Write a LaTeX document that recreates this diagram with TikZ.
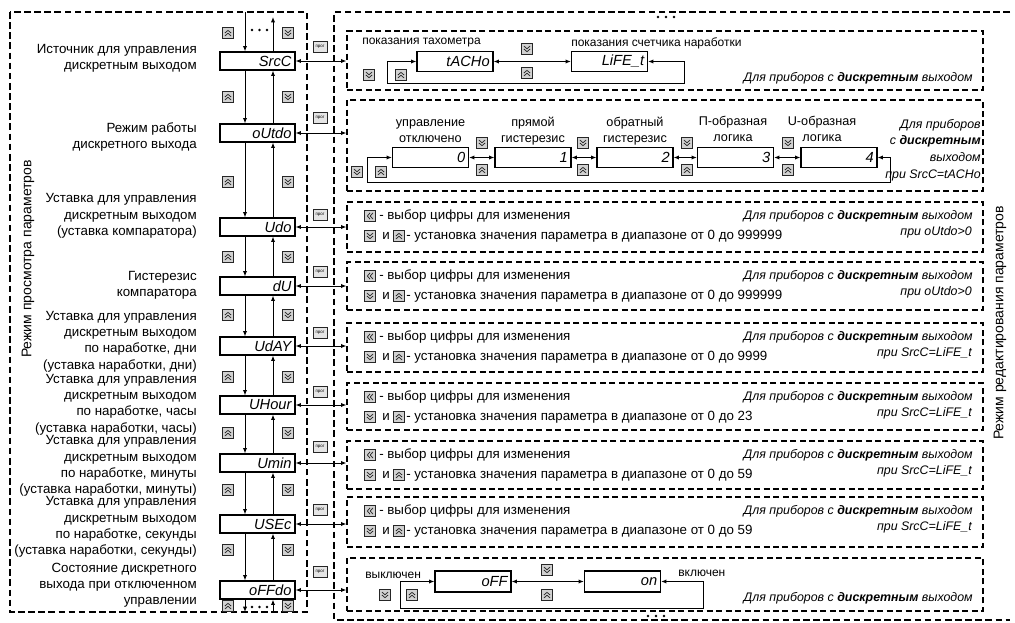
\documentclass[tikz,border=0pt]{standalone}
\usepackage{fontspec}
\setmainfont{Liberation Sans}
\usetikzlibrary{arrows.meta}
\newcommand\LblF{\fontsize{10}{12.2}\selectfont}
\newcommand\VtF{\fontsize{10.5}{12}\selectfont}
\newcommand\SmF{\fontsize{9}{11}\selectfont}
\newcommand\MdF{\fontsize{9.5}{12}\selectfont}
\newcommand\ItF{\fontsize{9.3}{12.5}\selectfont\itshape}
\newcommand\SegF{\fontsize{11}{11}\selectfont\itshape}
\newcommand\PrgF{\fontsize{3.3}{3.3}\selectfont}
\newcommand\DskW{\textbf{дискретным}}
\tikzset{
  outerdash/.style={line width=1.1pt, dash pattern=on 5pt off 2.6pt},
  paneldash/.style={draw, line width=0.9pt, dash pattern=on 4.5pt off 2.6pt, inner sep=0pt, minimum width=477pt},
  pbox/.style={draw, line width=0.9pt, minimum height=13.5pt, text width=51pt, inner xsep=2.6pt, inner ysep=0pt, align=right, font=\SegF},
  sbox/.style={draw, line width=0.9pt, minimum height=15pt, text width=52pt, inner xsep=2.5pt, inner ysep=0pt, align=right, font=\SegF},
  conn/.style={draw, line width=0.75pt, -{Latex[length=4pt,width=3.2pt]}},
  biconn/.style={draw, line width=0.75pt, {Latex[length=4pt,width=3.2pt]}-{Latex[length=4pt,width=3.2pt]}},
  btn/.style={draw=black!85, fill=black!18, line width=0.5pt, minimum size=8.5pt, inner sep=0pt},
  upbtn/.style={btn, path picture={
      \draw[line width=0.55pt] ([shift={(-2.3pt,0pt)}]path picture bounding box.center) -- ++(2.3pt,2pt) -- ++(2.3pt,-2pt);
      \draw[line width=0.55pt] ([shift={(-2.3pt,-2.2pt)}]path picture bounding box.center) -- ++(2.3pt,2pt) -- ++(2.3pt,-2pt);}},
  dnbtn/.style={btn, path picture={
      \draw[line width=0.55pt] ([shift={(-2.3pt,0pt)}]path picture bounding box.center) -- ++(2.3pt,-2pt) -- ++(2.3pt,2pt);
      \draw[line width=0.55pt] ([shift={(-2.3pt,2.2pt)}]path picture bounding box.center) -- ++(2.3pt,-2pt) -- ++(2.3pt,2pt);}},
  ltbtn/.style={btn, path picture={
      \draw[line width=0.55pt] ([shift={(0pt,2.3pt)}]path picture bounding box.center) -- ++(-2pt,-2.3pt) -- ++(2pt,-2.3pt);
      \draw[line width=0.55pt] ([shift={(2.2pt,2.3pt)}]path picture bounding box.center) -- ++(-2pt,-2.3pt) -- ++(2pt,-2.3pt);}},
  prgbtn/.style={draw=black!85, fill=black!10, line width=0.5pt, minimum width=10.5pt, minimum height=8.5pt, inner sep=0pt, font=\PrgF},
  lbl/.style={font=\LblF, align=right, anchor=east, inner sep=0pt},
  txt/.style={font=\LblF, anchor=west, inner sep=0pt},
  stx/.style={font=\SmF, anchor=west, inner sep=0pt},
  itx/.style={font=\ItF, anchor=east, inner sep=0pt, align=right},
}
\begin{document}
\begin{tikzpicture}[x=0.75pt,y=-0.75pt]
\useasboundingbox (0,0) rectangle (1015,622);
% outer boxes
\draw[outerdash] (10,12) rectangle (307,612);
\draw[outerdash] (1010,12) -- (334,12) -- (334,620) -- (1010,620);

% parameter boxes
\node[pbox] (srcc) at (257.5,61) {SrcC};
\node[pbox] (outdo) at (257.5,133) {oUtdo};
\node[pbox] (udo) at (257.5,227) {Udo};
\node[pbox] (du) at (257.5,286) {dU};
\node[pbox] (uday) at (257.5,346) {UdAY};
\node[pbox] (uhour) at (257.5,405) {UHour};
\node[pbox] (umin) at (257.5,463) {Umin};
\node[pbox] (usec) at (257.5,524) {USEc};
\node[pbox] (offdo) at (257.5,590) {oFFdo};

\coordinate (xd) at (245,0);
\coordinate (xu) at (273,0);
\foreach \a/\b in {srcc/outdo, outdo/udo, udo/du, du/uday, uday/uhour, uhour/umin, umin/usec, usec/offdo}{
  \draw[conn] (\a.south -| xd) -- (\b.north -| xd);
  \draw[conn] (\b.north -| xu) -- (\a.south -| xu);
}
\coordinate (topd) at (245,12);
\coordinate (topu) at (273,17);
\coordinate (botd) at (245,612);
\coordinate (botu) at (273,612);
\draw[conn] (topd) -- (srcc.north -| topd);
\draw[conn] (srcc.north -| topu) -- (topu);
\draw[conn] (offdo.south -| botd) -- (botd);
\draw[conn] (botu) -- (offdo.south -| botu);

\foreach \y [count=\k] in {33,97,182,257,315,377,433,490,550,606}{
  \node[upbtn] (lu\k) at (228,\y) {};
  \node[dnbtn] (ld\k) at (288,\y) {};
}
\foreach \x in {252,259.5,267}{
  \fill (\x,30) circle (1pt);
  \fill (\x,607) circle (1pt);
}
\foreach \x in {658,666,674}{\fill (\x,17) circle (1pt);}
\foreach \x in {648,656,664}{\fill (\x,616) circle (1pt);}

% left labels
\node[lbl] (lab1) at (197,58.5) {Источник для управления\\дискретным выходом};
\node[lbl] (lab2) at (197,137) {Режим работы\\дискретного выхода};
\node[lbl] (lab3) at (197,216) {Уставка для управления\\дискретным выходом\\(уставка компаратора)};
\node[lbl] (lab4) at (197,285) {Гистерезис\\компаратора};
\node[lbl] (lab5) at (197,341.5) {Уставка для управления\\дискретным выходом\\по наработке, дни\\(уставка наработки, дни)};
\node[lbl] (lab6) at (197,404.5) {Уставка для управления\\дискретным выходом\\по наработке, часы\\(уставка наработки, часы)};
\node[lbl] (lab7) at (197,466) {Уставка для управления\\дискретным выходом\\по наработке, минуты\\(уставка наработки, минуты)};
\node[lbl] (lab8) at (197,527) {Уставка для управления\\дискретным выходом\\по наработке, секунды\\(уставка наработки, секунды)};
\node[lbl] (lab9) at (197,585) {Состояние дискретного\\выхода при отключенном\\управлении};

\node[rotate=90, font=\VtF, inner sep=0pt] (vl) at (28,259) {Режим просмотра параметров};
\node[rotate=90, font=\VtF, inner sep=0pt] (vr) at (1000,323) {Режим редактирования параметров};

% panels
\node[paneldash, minimum height=44.25pt] (pan1) at (665,60.5) {};
\node[paneldash, minimum height=68.25pt] (pan2) at (665,145.5) {};
\node[paneldash, minimum height=37.5pt] (pan3) at (665,227) {};
\node[paneldash, minimum height=36pt] (pan4) at (665,286) {};
\node[paneldash, minimum height=36.75pt] (pan5) at (665,347.5) {};
\node[paneldash, minimum height=35.25pt] (pan6) at (665,406.5) {};
\node[paneldash, minimum height=36pt] (pan7) at (665,465) {};
\node[paneldash, minimum height=37.5pt] (pan8) at (665,522) {};
\node[paneldash, minimum height=39.75pt] (pan9) at (665,584.5) {};

\foreach \p/\n/\y [count=\k] in {srcc/pan1/47, outdo/pan2/118, udo/pan3/215, du/pan4/272, uday/pan5/333, uhour/pan6/392, umin/pan7/447, usec/pan8/510, offdo/pan9/572}{
  \node[prgbtn] (pg\k) at (320,\y) {прог};
  \draw[biconn] (\p.east) -- (\p.east -| \n.west);
}

% panel 1
\node[stx] (t1a) at (362,43) {показания тахометра};
\node[stx] (t1b) at (571,43) {показания счетчика наработки};
\node[sbox] (tacho) at (455,61.5) {tACHo};
\node[sbox] (life) at (609.5,61.5) {LiFE\_t};
\draw[biconn] (tacho.east) -- (life.west);
\node[dnbtn] (p1d) at (527,49) {};
\node[upbtn] (p1u) at (527,73) {};
\coordinate (l1c) at (387,83);
\coordinate (l1a) at (684,61.5);
\draw[biconn] (tacho.west) -| (l1c) -| (l1a) -- (life.east);
\node[dnbtn] (p1d2) at (369,75) {};
\node[upbtn] (p1u2) at (401,75) {};
\node[itx] (r1) at (973,78) {Для приборов с \DskW\ выходом};

% panel 2
\foreach \n/\x/\v in {b0/430.5/0, b1/533/1, b2/635/2, b3/735.5/3, b4/839/4}{
  \node[sbox] (\n) at (\x,157.5) {\v};
}
\node[font=\MdF, align=center, inner sep=0pt] (c0) at (430.5,131) {управление\\отключено};
\node[font=\MdF, align=center, inner sep=0pt] (c1) at (533,131) {прямой\\гистерезис};
\node[font=\MdF, align=center, inner sep=0pt] (c2) at (635,131) {обратный\\гистерезис};
\node[font=\MdF, align=center, inner sep=0pt] (c3) at (733,129) {П-образная\\логика};
\node[font=\MdF, align=center, inner sep=0pt] (c4) at (822,129) {U-образная\\логика};
\draw[biconn] (b0.east) -- (b1.west);
\draw[biconn] (b1.east) -- (b2.west);
\draw[biconn] (b2.east) -- (b3.west);
\draw[biconn] (b3.east) -- (b4.west);
\foreach \x [count=\k] in {482,583,687,788}{
  \node[dnbtn] (p2d\k) at (\x,143) {};
  \node[upbtn] (p2u\k) at (\x,170) {};
}
\coordinate (l2c) at (367,182);
\coordinate (l2a) at (890,157.5);
\draw[biconn] (b0.west) -| (l2c) -| (l2a) -- (b4.east);
\node[dnbtn] (p2d0) at (357,172) {};
\node[upbtn] (p2u0) at (381,172) {};
\node[itx] (r2) at (981,150) {Для приборов\\с \DskW\\выходом\\при SrcC=tACHo};

% panels 3-8
\foreach \k/\t/\rng/\cond in {3/202/999999/oUtdo>0, 4/262/999999/oUtdo>0, 5/323/9999/SrcC=LiFE\_t, 6/383/23/SrcC=LiFE\_t, 7/441/59/SrcC=LiFE\_t, 8/497/59/SrcC=LiFE\_t}{
  \node[ltbtn] (sl\k) at (370,\t+14) {};
  \node[txt] (st\k) at (379,\t+14) {- выбор цифры для изменения};
  \node[dnbtn] (sd\k) at (370,\t+34) {};
  \node[txt] (si\k) at (382,\t+34) {и};
  \node[upbtn] (su\k) at (399,\t+34) {};
  \node[txt] (sr\k) at (406,\t+34) {- установка значения параметра в диапазоне от 0 до \rng};
  \node[itx] (sa\k) at (973,\t+14) {Для приборов с \DskW\ выходом};
  \node[itx] (sb\k) at (972,\t+30) {при \cond};
}

% panel 9
\node[stx] (off1) at (365,575) {выключен};
\node[sbox, minimum height=15.75pt] (off) at (473,581.5) {oFF};
\node[sbox, minimum height=15.75pt] (on) at (622.5,581.5) {on};
\node[stx] (on1) at (678,573) {включен};
\draw[biconn] (off.east) -- (on.west);
\coordinate (l9c) at (400,608);
\coordinate (l9a) at (703,581.5);
\draw[biconn] (off.west) -| (l9c) -| (l9a) -- (on.east);
\node[dnbtn] (p9d) at (385,595) {};
\node[upbtn] (p9u) at (412,595) {};
\node[dnbtn] (p9d2) at (547,570) {};
\node[upbtn] (p9u2) at (547,595) {};
\node[itx] (r9) at (973,598) {Для приборов с \DskW\ выходом};
\end{tikzpicture}
\end{document}
